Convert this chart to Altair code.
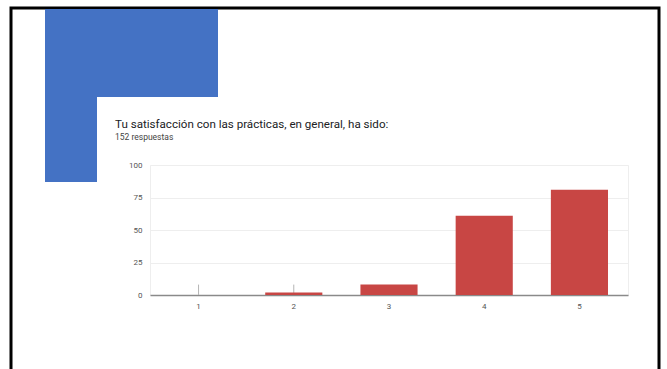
import altair as alt
import pandas as pd

# Survey results: satisfaction score (1-5) and number of answers
scores = ["1", "2", "3", "4", "5"]
counts = [0, 2, 8, 61, 81]
y_ticks = [0, 25, 50, 75, 100]

# thin marker stubs drawn above the baseline at the lowest scores
stub_scores = ["1", "2"]
stub_top = [8, 8]

title_text = "Tu satisfacción con las prácticas, en general, ha sido:"
subtitle_text = "152 respuestas"

RED = "#c84644"
BLUE = "#4472c4"

bars_df = pd.DataFrame({"score": scores, "count": counts})
stubs_df = pd.DataFrame({"score": stub_scores, "top": stub_top})
one = pd.DataFrame({"k": [0]})

x_scale = alt.Scale(domain=scores, paddingInner=0.4, paddingOuter=0.21)
y_scale = alt.Scale(domain=[0, 100])

x_axis = alt.Axis(
    title=None,
    labelAngle=0,
    ticks=False,
    domainColor="#8a8a8a",
    domainWidth=1.5,
    labelColor="#555555",
    labelFontSize=8,
    labelPadding=7,
    labelFont="Roboto",
)
y_axis = alt.Axis(
    title=None,
    values=y_ticks,
    domain=False,
    ticks=False,
    labelOverlap=False,
    gridColor="#eeeeee",
    labelColor="#555555",
    labelFontSize=8,
    labelPadding=8,
    labelFont="Roboto",
)

# slide frame and blue accent shape behind the card
frame = alt.Chart(one).mark_rect(fill=None, stroke="#000000", strokeWidth=3).encode(
    x=alt.value(-139), x2=alt.value(509), y=alt.value(-157), y2=alt.value(215)
)
accent_top = alt.Chart(one).mark_rect(color=BLUE).encode(
    x=alt.value(-105), x2=alt.value(68), y=alt.value(-156), y2=alt.value(-68)
)
accent_side = alt.Chart(one).mark_rect(color=BLUE).encode(
    x=alt.value(-105), x2=alt.value(-53), y=alt.value(-69), y2=alt.value(17)
)

# question heading and response count
heading = alt.Chart(one).mark_text(
    text=title_text, align="left", baseline="alphabetic",
    font="Roboto", fontSize=11.6, color="#202124",
).encode(x=alt.value(-35), y=alt.value(-37))
answers = alt.Chart(one).mark_text(
    text=subtitle_text, align="left", baseline="alphabetic",
    font="Roboto", fontSize=8.5, color="#444444",
).encode(x=alt.value(-35), y=alt.value(-25))

bars = alt.Chart(bars_df).mark_bar(color=RED).encode(
    x=alt.X("score:N", scale=x_scale, sort=scores, axis=x_axis),
    y=alt.Y("count:Q", scale=y_scale, axis=y_axis),
)

stubs = alt.Chart(stubs_df).mark_rule(color="#b5b5b5", strokeWidth=1).encode(
    x=alt.X("score:N", scale=x_scale, sort=scores, axis=x_axis),
    y=alt.Y("top:Q", scale=y_scale, axis=y_axis),
    y2=alt.datum(0),
)

chart = (
    alt.layer(frame, accent_top, accent_side, heading, answers, stubs, bars)
    .properties(
        width=478,
        height=130,
        autosize="none",
        padding={"left": 150, "top": 165, "right": 39, "bottom": 74},
        background="white",
    )
    .configure_view(stroke="#eeeeee")
)

chart.save("out.html", embed_options={"renderer": "svg", "actions": False})
